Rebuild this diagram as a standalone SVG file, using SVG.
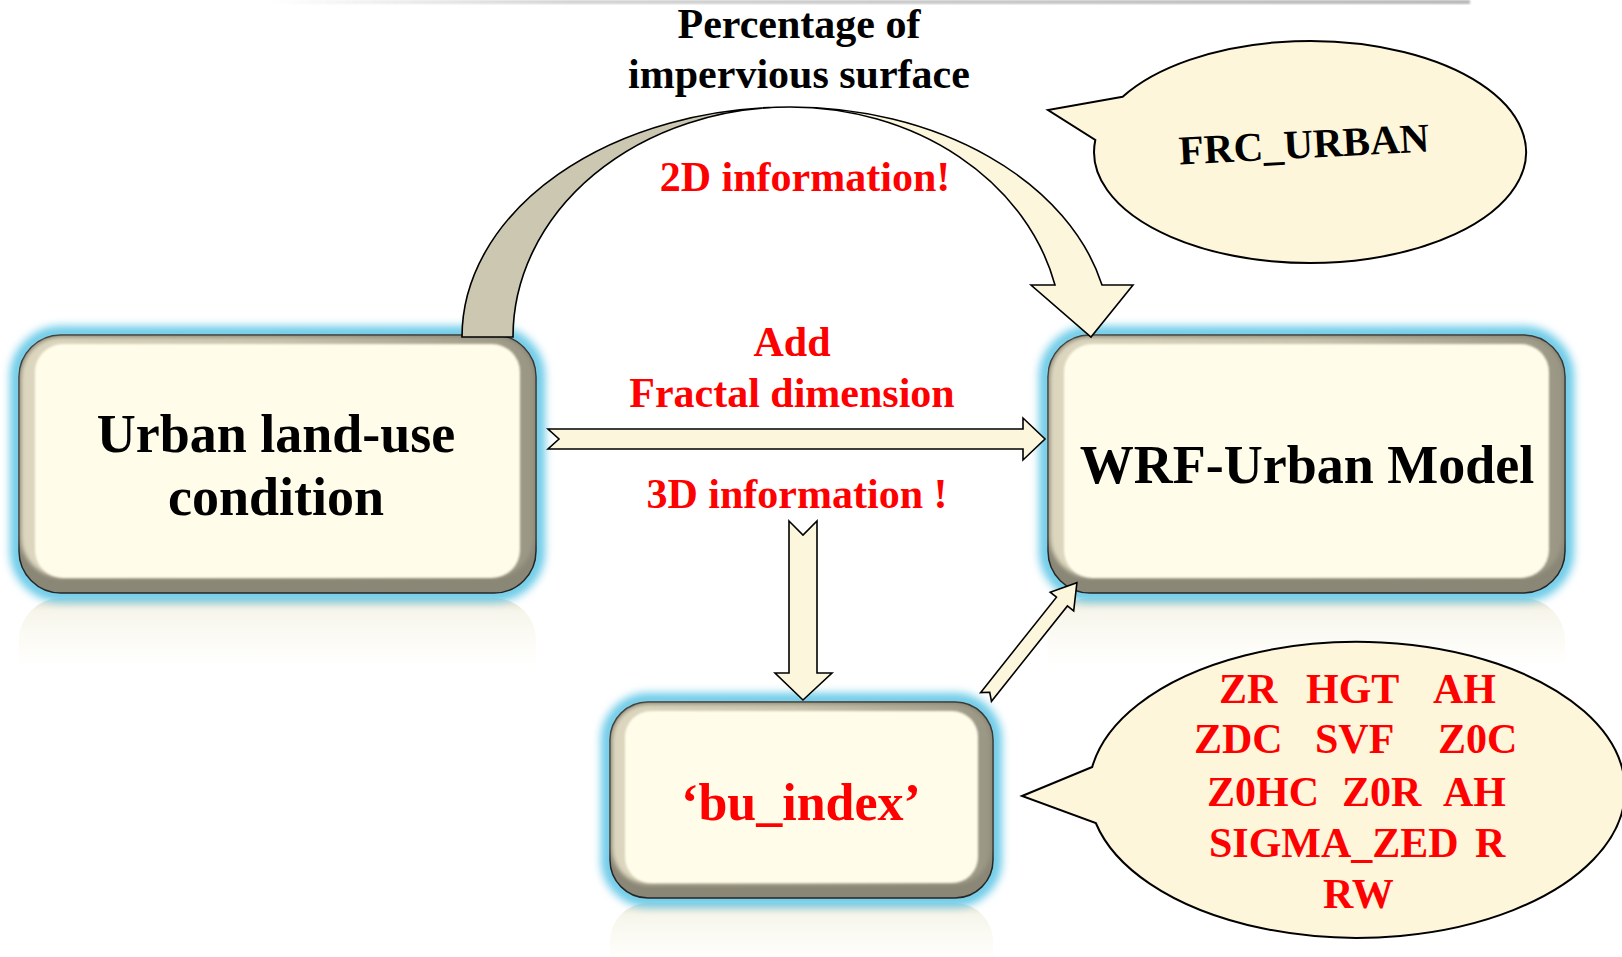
<svg xmlns="http://www.w3.org/2000/svg" width="1622" height="957" viewBox="0 0 1622 957">
  <defs>
    <style>
      .t { font-family: "Liberation Serif", "Times New Roman", serif; font-weight: bold; }
      .blk { fill: #000; }
      .red { fill: #ff0000; }
      .mid { text-anchor: middle; }
      .arrow { fill: #fcf6dc; stroke: #000; stroke-width: 1.6; stroke-linejoin: miter; }
      .callout { fill: #fdf6da; stroke: #000; stroke-width: 2; }
      .glow { fill: none; stroke: #6ccbe8; stroke-width: 14; filter: url(#blur5); }
      .bevel { fill: #8b8776; stroke: #262626; stroke-width: 1.5; }
      .light { fill: url(#lightSide); filter: url(#blur2); }
      .face { fill: #fffde9; filter: url(#blur1); }
    </style>
    <filter id="blur5" x="-10%" y="-15%" width="120%" height="130%">
      <feGaussianBlur stdDeviation="4.5"/>
    </filter>
    <filter id="blur2" x="-5%" y="-5%" width="110%" height="110%">
      <feGaussianBlur stdDeviation="2"/>
    </filter>
    <filter id="blur1" x="-5%" y="-5%" width="110%" height="110%">
      <feGaussianBlur stdDeviation="1.2"/>
    </filter>
    <linearGradient id="lightSide" x1="0" y1="0" x2="1" y2="0">
      <stop offset="0" stop-color="#ddd7bf"/>
      <stop offset="0.5" stop-color="#c9c4ad"/>
      <stop offset="1" stop-color="#9a9684"/>
    </linearGradient>
    <linearGradient id="reflA" x1="0" y1="0" x2="0" y2="1">
      <stop offset="0" stop-color="#d6d2bd" stop-opacity="0.75"/>
      <stop offset="0.05" stop-color="#f4f2e4" stop-opacity="0.75"/>
      <stop offset="0.2" stop-color="#fbfaf2" stop-opacity="0.5"/>
      <stop offset="0.3" stop-color="#ffffff" stop-opacity="0"/>
    </linearGradient>
    <linearGradient id="reflB" x1="0" y1="0" x2="0" y2="1">
      <stop offset="0" stop-color="#d6d2bd" stop-opacity="0.75"/>
      <stop offset="0.06" stop-color="#f4f2e4" stop-opacity="0.75"/>
      <stop offset="0.25" stop-color="#fbfaf2" stop-opacity="0.45"/>
      <stop offset="0.34" stop-color="#ffffff" stop-opacity="0"/>
    </linearGradient>
    <linearGradient id="topLine" x1="0" y1="0" x2="1" y2="0">
      <stop offset="0" stop-color="#cfcfcf" stop-opacity="0"/>
      <stop offset="0.25" stop-color="#d2d2d2"/>
      <stop offset="1" stop-color="#b5b5b5"/>
    </linearGradient>
  </defs>

  <rect width="1622" height="957" fill="#ffffff"/>

  <!-- thin shadow line along the top edge -->
  <rect x="270" y="0" width="1200" height="4" fill="url(#topLine)" filter="url(#blur1)"/>

  <!-- reflections under the boxes -->
  <g id="reflections">
    <rect x="19" y="598" width="517" height="258" rx="42" fill="url(#reflA)"/>
    <rect x="1048" y="598" width="517" height="258" rx="42" fill="url(#reflA)"/>
    <rect x="610" y="903" width="383" height="196" rx="38" fill="url(#reflB)"/>
  </g>

  <!-- Urban land-use node -->
  <g id="node-landuse">
    <rect class="glow" x="17" y="333" width="521" height="262" rx="44"/>
    <rect class="bevel" x="19" y="335" width="517" height="258" rx="42"/>
    <rect class="light" x="21" y="337" width="513" height="240" rx="40"/>
    <rect class="face" x="35" y="344" width="485" height="234" rx="28"/>
    <text class="t blk mid" x="276" y="452" font-size="54">Urban land-use</text>
    <text class="t blk mid" x="276" y="515" font-size="54">condition</text>
  </g>

  <!-- WRF-Urban Model node -->
  <g id="node-wrf">
    <rect class="glow" x="1046" y="333" width="521" height="262" rx="44"/>
    <rect class="bevel" x="1048" y="335" width="517" height="258" rx="42"/>
    <rect class="light" x="1050" y="337" width="513" height="240" rx="40"/>
    <rect class="face" x="1064" y="344" width="485" height="234" rx="28"/>
    <text class="t blk mid" x="1307" y="483" font-size="54">WRF-Urban Model</text>
  </g>

  <!-- bu_index node -->
  <g id="node-buindex">
    <rect class="glow" x="608" y="700" width="387" height="200" rx="40"/>
    <rect class="bevel" x="610" y="702" width="383" height="196" rx="38"/>
    <rect class="light" x="612" y="704" width="379" height="180" rx="36"/>
    <rect class="face" x="625" y="711" width="353" height="172" rx="26"/>
    <text class="t red mid" x="801" y="820" font-size="52">‘bu_index’</text>
  </g>

  <!-- FRC_URBAN callout -->
  <g id="callout-frc">
    <path class="callout" d="M 1122.7 96.7 L 1048 110 L 1095.3 140 A 216 111 0 1 0 1122.7 96.7 Z"/>
    <text class="t blk mid" x="1304" y="158" font-size="41" transform="rotate(-3 1304 145)">FRC_URBAN</text>
  </g>

  <!-- urban parameter callout -->
  <g id="callout-params">
    <path class="callout" d="M 1092.2 767 L 1022 796 L 1095.8 823 A 268 148 0 1 0 1092.2 767 Z"/>
    <g class="t red" font-size="42">
      <text x="1219" y="703">ZR</text>
      <text x="1306" y="703">HGT</text>
      <text x="1433" y="703">AH</text>
      <text x="1194" y="753">ZDC</text>
      <text x="1315" y="753">SVF</text>
      <text x="1438" y="753">Z0C</text>
      <text x="1207" y="806">Z0HC</text>
      <text x="1342" y="806">Z0R</text>
      <text x="1443" y="806">AH</text>
      <text x="1209" y="857">SIGMA_ZED</text>
      <text x="1475" y="857">R</text>
      <text x="1323" y="908">RW</text>
    </g>
  </g>

  <!-- connectors -->
  <g id="connectors">
    <!-- curved arrow: back face of the ribbon, then the front face with head -->
    <path fill="#ccc7b0" stroke="#000" stroke-width="1.6" d="M 462 337 A 328 230 0 0 1 790 107 A 277 230 0 0 0 513 337 Z"/>
    <path class="arrow" d="M 790 107 A 320 230 0 0 1 1102 285 L 1133 285 L 1091 337 L 1031 285 L 1055 285 A 272 230 0 0 0 790 107 Z"/>
    <!-- straight arrow to the model -->
    <polygon class="arrow" points="548,429 1023,429 1023,418 1045,439 1023,460 1023,449 548,449 559,439"/>
    <!-- downward arrow to bu_index -->
    <polygon class="arrow" points="789,521 803,535 817,521 817,673 832,673 803,700 775,673 789,673"/>
    <!-- diagonal arrow from bu_index to the model -->
    <polygon class="arrow" transform="translate(986 697) rotate(-51.5)" points="0,-7 122,-7 122,-15 146,0 122,15 122,7 0,7 6,0"/>

    <text class="t blk mid" x="799" y="38" font-size="42">Percentage of</text>
    <text class="t blk mid" x="799" y="88" font-size="42">impervious surface</text>
    <text class="t red mid" x="805" y="191" font-size="42">2D information!</text>
    <text class="t red mid" x="792" y="356" font-size="42">Add</text>
    <text class="t red mid" x="792" y="407" font-size="42">Fractal dimension</text>
    <text class="t red mid" x="797" y="508" font-size="42">3D information !</text>
  </g>
</svg>
